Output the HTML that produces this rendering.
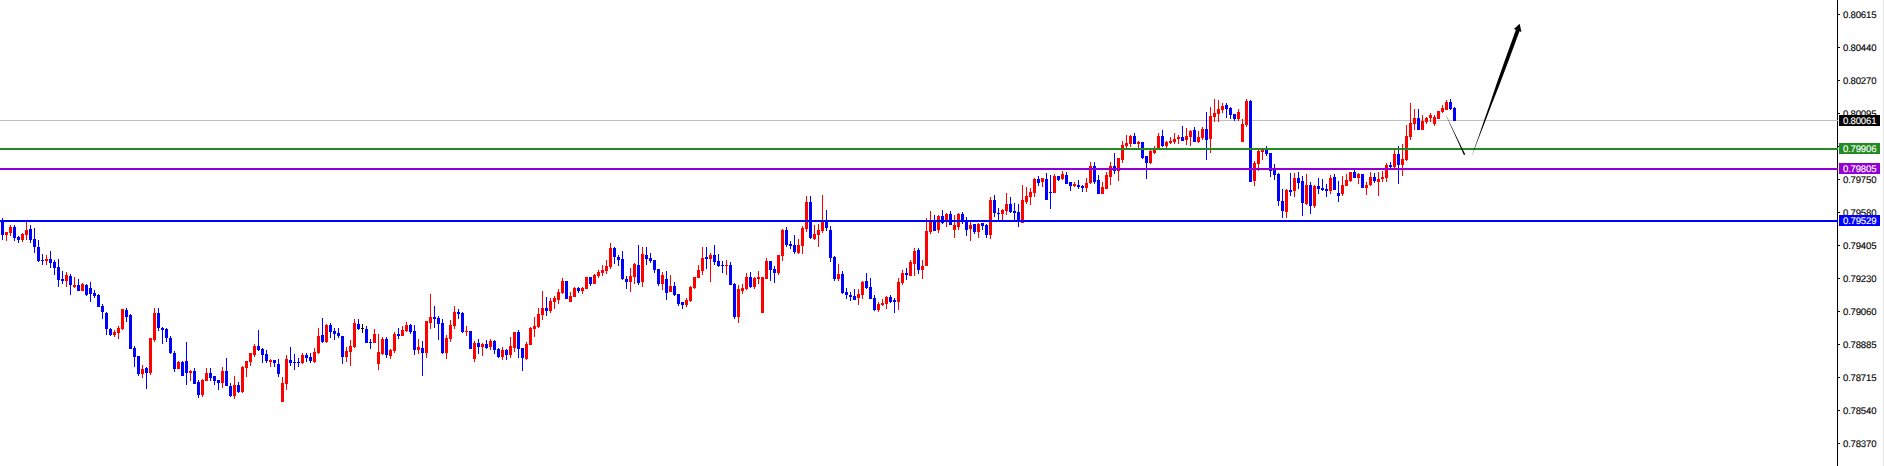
<!DOCTYPE html>
<html><head><meta charset="utf-8"><title>Chart</title>
<style>
html,body{margin:0;padding:0;background:#fff;}
body{width:1884px;height:466px;position:relative;overflow:hidden;font-family:"Liberation Sans",sans-serif;}
.chart{position:absolute;left:0;top:0;display:block;}
.lb{position:absolute;left:1843px;height:12px;line-height:12px;font-size:9.6px;letter-spacing:-0.2px;color:#000;white-space:nowrap;text-rendering:geometricPrecision;-webkit-text-stroke:0.12px currentColor;}
.lb.w{color:#fff;}
.tag{position:absolute;left:1839px;width:41px;height:11px;}
</style></head><body>
<svg class="chart" width="1884" height="466" viewBox="0 0 1884 466" shape-rendering="crispEdges">
<rect x="0" y="120" width="1838" height="1" fill="#c0c0c0"/>
<path fill="#ff0000" d="M6 232h1V241h-1zM5 232h3V235h-3zM10 225h1V236h-1zM9 227h3V233h-3zM22 233h1V242h-1zM21 234h3V240h-3zM26 222h1V240h-1zM25 230h3V235h-3zM46 255h1V265h-1zM45 259h3V261h-3zM66 272h1V287h-1zM65 275h3V281h-3zM74 277h1V288h-1zM73 285h3V287h-3zM82 283h1V291h-1zM81 284h3V291h-3zM114 330h1V337h-1zM113 332h3V335h-3zM118 326h1V339h-1zM117 328h3V333h-3zM122 309h1V330h-1zM121 309h3V329h-3zM142 365h1V378h-1zM141 369h3V374h-3zM150 338h1V375h-1zM149 338h3V373h-3zM154 308h1V342h-1zM153 313h3V340h-3zM178 361h1V369h-1zM177 362h3V369h-3zM190 370h1V381h-1zM189 371h3V373h-3zM202 379h1V397h-1zM201 380h3V395h-3zM206 368h1V381h-1zM205 373h3V381h-3zM222 367h1V388h-1zM221 371h3V383h-3zM234 376h1V399h-1zM233 385h3V396h-3zM242 366h1V393h-1zM241 367h3V392h-3zM246 361h1V377h-1zM245 361h3V368h-3zM250 353h1V366h-1zM249 353h3V362h-3zM254 344h1V357h-1zM253 346h3V355h-3zM270 359h1V367h-1zM269 360h3V362h-3zM282 377h1V402h-1zM281 383h3V402h-3zM286 355h1V390h-1zM285 359h3V384h-3zM302 353h1V364h-1zM301 355h3V363h-3zM314 348h1V363h-1zM313 352h3V362h-3zM318 328h1V354h-1zM317 336h3V353h-3zM326 324h1V343h-1zM325 325h3V342h-3zM346 347h1V362h-1zM345 351h3V357h-3zM350 340h1V366h-1zM349 346h3V352h-3zM354 319h1V348h-1zM353 323h3V347h-3zM374 329h1V343h-1zM373 334h3V343h-3zM378 334h1V370h-1zM377 352h3V364h-3zM382 337h1V355h-1zM381 339h3V354h-3zM390 349h1V359h-1zM389 350h3V356h-3zM394 332h1V353h-1zM393 334h3V351h-3zM402 326h1V336h-1zM401 330h3V336h-3zM406 322h1V332h-1zM405 325h3V331h-3zM418 339h1V354h-1zM417 347h3V350h-3zM426 321h1V358h-1zM425 321h3V353h-3zM430 294h1V329h-1zM429 317h3V323h-3zM446 335h1V359h-1zM445 338h3V353h-3zM450 320h1V342h-1zM449 325h3V339h-3zM454 306h1V329h-1zM453 312h3V326h-3zM466 326h1V336h-1zM465 331h3V332h-3zM474 341h1V362h-1zM473 343h3V359h-3zM482 343h1V356h-1zM481 344h3V347h-3zM490 339h1V350h-1zM489 341h3V347h-3zM502 347h1V360h-1zM501 350h3V357h-3zM510 337h1V358h-1zM509 346h3V355h-3zM514 332h1V352h-1zM513 332h3V348h-3zM526 342h1V360h-1zM525 344h3V359h-3zM530 327h1V345h-1zM529 328h3V345h-3zM534 317h1V337h-1zM533 326h3V329h-3zM538 308h1V328h-1zM537 314h3V327h-3zM542 291h1V320h-1zM541 308h3V315h-3zM550 298h1V313h-1zM549 301h3V311h-3zM554 296h1V309h-1zM553 298h3V302h-3zM558 289h1V304h-1zM557 292h3V300h-3zM562 278h1V294h-1zM561 281h3V293h-3zM570 292h1V302h-1zM569 296h3V302h-3zM574 287h1V297h-1zM573 288h3V297h-3zM582 287h1V294h-1zM581 288h3V291h-3zM586 277h1V289h-1zM585 277h3V289h-3zM594 274h1V284h-1zM593 275h3V284h-3zM598 270h1V278h-1zM597 272h3V276h-3zM602 265h1V276h-1zM601 270h3V273h-3zM606 260h1V274h-1zM605 266h3V271h-3zM610 243h1V269h-1zM609 248h3V267h-3zM630 268h1V292h-1zM629 276h3V282h-3zM634 263h1V284h-1zM633 264h3V277h-3zM642 247h1V287h-1zM641 254h3V282h-3zM662 272h1V290h-1zM661 275h3V284h-3zM670 275h1V292h-1zM669 286h3V292h-3zM686 298h1V307h-1zM685 300h3V305h-3zM690 286h1V302h-1zM689 287h3V301h-3zM694 277h1V289h-1zM693 277h3V288h-3zM698 265h1V278h-1zM697 270h3V278h-3zM702 247h1V275h-1zM701 258h3V271h-3zM710 253h1V282h-1zM709 255h3V259h-3zM726 260h1V275h-1zM725 265h3V266h-3zM738 285h1V323h-1zM737 289h3V317h-3zM742 284h1V294h-1zM741 288h3V291h-3zM746 273h1V290h-1zM745 277h3V289h-3zM754 277h1V289h-1zM753 278h3V287h-3zM758 271h1V284h-1zM757 277h3V279h-3zM762 277h1V313h-1zM761 277h3V313h-3zM766 258h1V279h-1zM765 261h3V279h-3zM778 255h1V275h-1zM777 255h3V273h-3zM782 229h1V261h-1zM781 230h3V256h-3zM798 239h1V254h-1zM797 245h3V253h-3zM802 226h1V254h-1zM801 228h3V246h-3zM806 196h1V232h-1zM805 202h3V229h-3zM814 225h1V240h-1zM813 234h3V239h-3zM818 224h1V247h-1zM817 230h3V235h-3zM822 195h1V233h-1zM821 221h3V231h-3zM838 264h1V281h-1zM837 274h3V279h-3zM858 289h1V305h-1zM857 294h3V298h-3zM862 281h1V299h-1zM861 282h3V295h-3zM878 302h1V312h-1zM877 304h3V310h-3zM882 299h1V306h-1zM881 303h3V305h-3zM886 296h1V309h-1zM885 297h3V304h-3zM898 278h1V310h-1zM897 282h3V302h-3zM902 270h1V285h-1zM901 273h3V283h-3zM910 260h1V276h-1zM909 262h3V276h-3zM914 248h1V276h-1zM913 251h3V264h-3zM922 260h1V279h-1zM921 266h3V270h-3zM926 218h1V266h-1zM925 231h3V266h-3zM930 211h1V234h-1zM929 222h3V232h-3zM938 215h1V233h-1zM937 216h3V230h-3zM946 213h1V227h-1zM945 214h3V220h-3zM954 215h1V238h-1zM953 225h3V230h-3zM958 213h1V230h-1zM957 214h3V227h-3zM970 222h1V241h-1zM969 225h3V229h-3zM978 223h1V238h-1zM977 224h3V232h-3zM990 197h1V239h-1zM989 200h3V235h-3zM1002 209h1V220h-1zM1001 210h3V214h-3zM1006 193h1V215h-1zM1005 204h3V211h-3zM1022 185h1V223h-1zM1021 200h3V223h-3zM1026 187h1V204h-1zM1025 196h3V202h-3zM1030 188h1V205h-1zM1029 192h3V197h-3zM1034 178h1V197h-1zM1033 179h3V193h-3zM1042 178h1V187h-1zM1041 178h3V182h-3zM1054 174h1V193h-1zM1053 176h3V193h-3zM1062 171h1V180h-1zM1061 174h3V179h-3zM1074 182h1V187h-1zM1073 184h3V186h-3zM1086 178h1V192h-1zM1085 183h3V188h-3zM1090 162h1V184h-1zM1089 166h3V183h-3zM1102 182h1V194h-1zM1101 187h3V194h-3zM1106 172h1V189h-1zM1105 175h3V189h-3zM1110 162h1V185h-1zM1109 166h3V177h-3zM1118 158h1V181h-1zM1117 158h3V171h-3zM1122 141h1V163h-1zM1121 145h3V160h-3zM1126 135h1V148h-1zM1125 143h3V146h-3zM1130 135h1V147h-1zM1129 136h3V144h-3zM1138 141h1V148h-1zM1137 142h3V144h-3zM1150 150h1V164h-1zM1149 151h3V163h-3zM1154 146h1V154h-1zM1153 148h3V153h-3zM1158 133h1V148h-1zM1157 136h3V148h-3zM1166 141h1V148h-1zM1165 142h3V146h-3zM1170 137h1V144h-1zM1169 141h3V143h-3zM1174 133h1V144h-1zM1173 139h3V142h-3zM1178 135h1V144h-1zM1177 137h3V139h-3zM1186 128h1V145h-1zM1185 136h3V140h-3zM1190 130h1V146h-1zM1189 131h3V137h-3zM1198 131h1V143h-1zM1197 137h3V142h-3zM1202 127h1V140h-1zM1201 129h3V138h-3zM1210 107h1V153h-1zM1209 116h3V139h-3zM1214 99h1V122h-1zM1213 113h3V117h-3zM1218 100h1V122h-1zM1217 109h3V114h-3zM1222 103h1V113h-1zM1221 106h3V110h-3zM1238 109h1V121h-1zM1237 112h3V119h-3zM1242 119h1V142h-1zM1241 124h3V142h-3zM1246 99h1V127h-1zM1245 101h3V125h-3zM1254 161h1V186h-1zM1253 163h3V181h-3zM1258 150h1V171h-1zM1257 151h3V164h-3zM1262 149h1V160h-1zM1261 149h3V152h-3zM1286 189h1V218h-1zM1285 190h3V212h-3zM1294 173h1V197h-1zM1293 178h3V191h-3zM1306 174h1V205h-1zM1305 185h3V204h-3zM1314 185h1V208h-1zM1313 186h3V206h-3zM1330 175h1V194h-1zM1329 178h3V191h-3zM1342 176h1V196h-1zM1341 185h3V194h-3zM1346 174h1V186h-1zM1345 180h3V186h-3zM1350 172h1V182h-1zM1349 172h3V181h-3zM1358 173h1V184h-1zM1357 174h3V178h-3zM1366 182h1V195h-1zM1365 185h3V188h-3zM1370 172h1V186h-1zM1369 177h3V185h-3zM1378 172h1V196h-1zM1377 179h3V182h-3zM1382 171h1V182h-1zM1381 177h3V179h-3zM1386 163h1V182h-1zM1385 165h3V178h-3zM1394 150h1V168h-1zM1393 154h3V167h-3zM1402 144h1V176h-1zM1401 159h3V165h-3zM1406 125h1V161h-1zM1405 136h3V160h-3zM1410 103h1V140h-1zM1409 123h3V137h-3zM1414 109h1V130h-1zM1413 118h3V124h-3zM1422 115h1V130h-1zM1421 121h3V130h-3zM1426 117h1V124h-1zM1425 118h3V122h-3zM1430 113h1V122h-1zM1429 115h3V118h-3zM1434 115h1V126h-1zM1433 117h3V124h-3zM1438 111h1V119h-1zM1437 111h3V119h-3zM1442 105h1V113h-1zM1441 108h3V112h-3zM1446 100h1V110h-1zM1445 102h3V110h-3z"/>
<path fill="#0000ff" d="M2 218h1V240h-1zM1 220h3V235h-3zM14 225h1V241h-1zM13 227h3V238h-3zM18 236h1V243h-1zM17 237h3V240h-3zM30 225h1V243h-1zM29 229h3V240h-3zM34 228h1V253h-1zM33 239h3V247h-3zM38 240h1V262h-1zM37 247h3V261h-3zM42 254h1V265h-1zM41 260h3V261h-3zM50 251h1V268h-1zM49 259h3V263h-3zM54 260h1V275h-1zM53 262h3V268h-3zM58 259h1V287h-1zM57 267h3V280h-3zM62 271h1V284h-1zM61 279h3V281h-3zM70 274h1V295h-1zM69 276h3V285h-3zM78 279h1V291h-1zM77 285h3V291h-3zM86 284h1V296h-1zM85 285h3V295h-3zM90 282h1V302h-1zM89 288h3V294h-3zM94 290h1V298h-1zM93 293h3V296h-3zM98 294h1V307h-1zM97 295h3V307h-3zM102 304h1V319h-1zM101 306h3V312h-3zM106 312h1V335h-1zM105 313h3V329h-3zM110 328h1V336h-1zM109 329h3V335h-3zM126 308h1V322h-1zM125 310h3V317h-3zM130 314h1V349h-1zM129 315h3V349h-3zM134 346h1V367h-1zM133 348h3V357h-3zM138 356h1V376h-1zM137 356h3V374h-3zM146 367h1V389h-1zM145 368h3V373h-3zM158 308h1V331h-1zM157 313h3V328h-3zM162 327h1V344h-1zM161 328h3V330h-3zM166 328h1V342h-1zM165 329h3V338h-3zM170 336h1V354h-1zM169 338h3V353h-3zM174 351h1V372h-1zM173 353h3V369h-3zM182 361h1V376h-1zM181 362h3V376h-3zM186 342h1V385h-1zM185 361h3V373h-3zM194 368h1V384h-1zM193 371h3V384h-3zM198 380h1V398h-1zM197 382h3V395h-3zM210 368h1V381h-1zM209 373h3V378h-3zM214 376h1V385h-1zM213 376h3V381h-3zM218 380h1V390h-1zM217 380h3V383h-3zM226 358h1V386h-1zM225 371h3V386h-3zM230 383h1V397h-1zM229 386h3V396h-3zM238 382h1V393h-1zM237 385h3V392h-3zM258 330h1V351h-1zM257 346h3V350h-3zM262 348h1V363h-1zM261 349h3V355h-3zM266 350h1V363h-1zM265 354h3V361h-3zM274 360h1V367h-1zM273 360h3V363h-3zM278 359h1V377h-1zM277 364h3V374h-3zM290 347h1V366h-1zM289 360h3V363h-3zM294 354h1V370h-1zM293 362h3V363h-3zM298 358h1V367h-1zM297 362h3V363h-3zM306 353h1V362h-1zM305 355h3V358h-3zM310 353h1V363h-1zM309 357h3V361h-3zM322 318h1V343h-1zM321 335h3V342h-3zM330 323h1V338h-1zM329 325h3V332h-3zM334 328h1V340h-1zM333 331h3V334h-3zM338 328h1V338h-1zM337 333h3V336h-3zM342 336h1V364h-1zM341 336h3V357h-3zM358 319h1V330h-1zM357 324h3V329h-3zM366 326h1V343h-1zM365 329h3V343h-3zM370 339h1V349h-1zM369 342h3V343h-3zM386 337h1V358h-1zM385 339h3V355h-3zM398 328h1V339h-1zM397 334h3V336h-3zM410 324h1V334h-1zM409 325h3V332h-3zM414 325h1V355h-1zM413 331h3V350h-3zM422 341h1V376h-1zM421 348h3V353h-3zM434 306h1V328h-1zM433 317h3V319h-3zM438 316h1V340h-1zM437 318h3V324h-3zM442 319h1V354h-1zM441 323h3V353h-3zM458 309h1V319h-1zM457 312h3V314h-3zM462 312h1V333h-1zM461 313h3V332h-3zM470 331h1V349h-1zM469 331h3V349h-3zM478 339h1V354h-1zM477 343h3V347h-3zM486 340h1V349h-1zM485 344h3V348h-3zM494 340h1V354h-1zM493 341h3V350h-3zM498 348h1V358h-1zM497 349h3V357h-3zM506 349h1V360h-1zM505 350h3V355h-3zM518 330h1V358h-1zM517 332h3V349h-3zM522 348h1V371h-1zM521 348h3V358h-3zM546 297h1V316h-1zM545 308h3V311h-3zM566 281h1V299h-1zM565 281h3V299h-3zM578 287h1V293h-1zM577 288h3V291h-3zM590 277h1V286h-1zM589 277h3V284h-3zM614 247h1V264h-1zM613 248h3V257h-3zM618 255h1V266h-1zM617 257h3V260h-3zM622 251h1V280h-1zM621 259h3V279h-3zM626 276h1V289h-1zM625 279h3V282h-3zM638 245h1V285h-1zM637 265h3V283h-3zM646 247h1V265h-1zM645 255h3V259h-3zM650 253h1V263h-1zM649 258h3V261h-3zM654 260h1V273h-1zM653 260h3V270h-3zM658 269h1V286h-1zM657 269h3V284h-3zM666 271h1V300h-1zM665 279h3V293h-3zM674 282h1V296h-1zM673 286h3V295h-3zM678 294h1V306h-1zM677 294h3V304h-3zM682 302h1V309h-1zM681 302h3V305h-3zM706 247h1V269h-1zM705 257h3V259h-3zM714 245h1V265h-1zM713 255h3V262h-3zM718 254h1V267h-1zM717 261h3V266h-3zM722 261h1V273h-1zM721 265h3V266h-3zM730 262h1V285h-1zM729 265h3V285h-3zM734 283h1V319h-1zM733 284h3V317h-3zM750 272h1V288h-1zM749 277h3V287h-3zM770 261h1V281h-1zM769 261h3V270h-3zM774 266h1V283h-1zM773 269h3V273h-3zM786 227h1V247h-1zM785 230h3V245h-3zM790 241h1V249h-1zM789 244h3V246h-3zM794 235h1V254h-1zM793 245h3V252h-3zM810 196h1V239h-1zM809 202h3V238h-3zM826 210h1V231h-1zM825 221h3V228h-3zM830 226h1V262h-1zM829 230h3V258h-3zM834 256h1V281h-1zM833 257h3V279h-3zM842 271h1V294h-1zM841 274h3V293h-3zM846 288h1V299h-1zM845 292h3V295h-3zM850 292h1V301h-1zM849 295h3V297h-3zM854 289h1V300h-1zM853 296h3V300h-3zM866 273h1V289h-1zM865 281h3V288h-3zM870 278h1V299h-1zM869 287h3V299h-3zM874 295h1V311h-1zM873 298h3V310h-3zM890 295h1V303h-1zM889 297h3V302h-3zM894 298h1V313h-1zM893 300h3V302h-3zM906 268h1V280h-1zM905 273h3V275h-3zM918 248h1V274h-1zM917 250h3V270h-3zM934 215h1V231h-1zM933 220h3V231h-3zM942 210h1V224h-1zM941 216h3V223h-3zM950 211h1V225h-1zM949 214h3V225h-3zM962 212h1V224h-1zM961 214h3V221h-3zM966 217h1V236h-1zM965 221h3V230h-3zM974 224h1V234h-1zM973 224h3V232h-3zM982 223h1V230h-1zM981 223h3V226h-3zM986 224h1V238h-1zM985 225h3V235h-3zM994 195h1V217h-1zM993 200h3V213h-3zM998 208h1V220h-1zM997 213h3V214h-3zM1010 197h1V213h-1zM1009 204h3V212h-3zM1014 203h1V220h-1zM1013 211h3V213h-3zM1018 204h1V227h-1zM1017 212h3V222h-3zM1038 176h1V186h-1zM1037 179h3V183h-3zM1046 173h1V200h-1zM1045 179h3V200h-3zM1050 175h1V209h-1zM1049 192h3V193h-3zM1058 176h1V181h-1zM1057 176h3V180h-3zM1066 172h1V184h-1zM1065 175h3V184h-3zM1070 182h1V191h-1zM1069 182h3V186h-3zM1078 180h1V189h-1zM1077 185h3V187h-3zM1082 185h1V192h-1zM1081 186h3V188h-3zM1094 162h1V184h-1zM1093 166h3V182h-3zM1098 175h1V194h-1zM1097 180h3V194h-3zM1114 153h1V174h-1zM1113 166h3V171h-3zM1134 133h1V144h-1zM1133 136h3V144h-3zM1142 142h1V159h-1zM1141 142h3V158h-3zM1146 156h1V179h-1zM1145 156h3V163h-3zM1162 130h1V147h-1zM1161 136h3V146h-3zM1182 126h1V141h-1zM1181 137h3V141h-3zM1194 127h1V142h-1zM1193 130h3V142h-3zM1206 112h1V160h-1zM1205 129h3V140h-3zM1226 103h1V118h-1zM1225 105h3V109h-3zM1230 107h1V119h-1zM1229 108h3V115h-3zM1234 114h1V121h-1zM1233 114h3V119h-3zM1250 100h1V182h-1zM1249 101h3V182h-3zM1266 146h1V156h-1zM1265 150h3V154h-3zM1270 153h1V177h-1zM1269 153h3V171h-3zM1274 164h1V180h-1zM1273 170h3V175h-3zM1278 173h1V206h-1zM1277 174h3V201h-3zM1282 189h1V218h-1zM1281 201h3V211h-3zM1290 173h1V196h-1zM1289 190h3V192h-3zM1298 172h1V189h-1zM1297 178h3V183h-3zM1302 176h1V216h-1zM1301 181h3V203h-3zM1310 182h1V214h-1zM1309 185h3V206h-3zM1318 178h1V194h-1zM1317 186h3V189h-3zM1322 179h1V191h-1zM1321 188h3V190h-3zM1326 184h1V197h-1zM1325 189h3V191h-3zM1334 174h1V190h-1zM1333 177h3V190h-3zM1338 181h1V202h-1zM1337 193h3V196h-3zM1354 170h1V178h-1zM1353 172h3V178h-3zM1362 174h1V188h-1zM1361 174h3V188h-3zM1374 173h1V183h-1zM1373 177h3V181h-3zM1390 162h1V169h-1zM1389 165h3V167h-3zM1398 146h1V184h-1zM1397 154h3V165h-3zM1418 109h1V130h-1zM1417 118h3V130h-3zM1450 99h1V110h-1zM1449 102h3V109h-3zM1454 107h1V121h-1zM1453 108h3V121h-3z"/>
<path fill="#000000" d="M362 324h1V333h-1zM361 328h3V329h-3z"/>
<rect x="1837" y="0" width="1" height="466" fill="#000"/>
<rect x="1837" y="120" width="1" height="1" fill="#c0c0c0"/>
<rect x="0" y="148" width="1838" height="2" fill="#228b22"/>
<rect x="0" y="168" width="1838" height="2" fill="#9400d3"/>
<rect x="0" y="220" width="1838" height="2" fill="#0000ff"/>
<rect x="1838" y="14" width="2" height="1" fill="#000"/>
<rect x="1838" y="47" width="2" height="1" fill="#000"/>
<rect x="1838" y="80" width="2" height="1" fill="#000"/>
<rect x="1838" y="113" width="2" height="1" fill="#000"/>
<rect x="1838" y="146" width="2" height="1" fill="#000"/>
<rect x="1838" y="179" width="2" height="1" fill="#000"/>
<rect x="1838" y="212" width="2" height="1" fill="#000"/>
<rect x="1838" y="245" width="2" height="1" fill="#000"/>
<rect x="1838" y="278" width="2" height="1" fill="#000"/>
<rect x="1838" y="311" width="2" height="1" fill="#000"/>
<rect x="1838" y="344" width="2" height="1" fill="#000"/>
<rect x="1838" y="377" width="2" height="1" fill="#000"/>
<rect x="1838" y="410" width="2" height="1" fill="#000"/>
<rect x="1838" y="443" width="2" height="1" fill="#000"/>
<rect x="1883" y="0" width="1" height="466" fill="#e6e6e6"/>
<g shape-rendering="geometricPrecision" fill="#000"><polygon points="1446.18,115.80 1454.44,134.00 1460.79,148.00 1463.76,154.80 1465.46,154.80 1462.03,148.00 1455.24,134.00 1446.42,115.80"/><polygon points="1471.99,155.50 1474.54,148.00 1479.45,134.00 1484.21,120.00 1489.47,105.00 1495.81,86.00 1504.96,60.00 1510.39,45.00 1515.78,30.00 1519.97,30.00 1514.39,45.00 1508.86,60.00 1499.01,86.00 1491.47,105.00 1485.77,120.00 1480.29,134.00 1474.98,148.00 1472.05,155.50"/><polygon points="1519.7,23.8 1513.9,28.9 1521.4,32.0"/></g>
</svg>
<div class="lb" style="top:10px">0.80615</div>
<div class="lb" style="top:43px">0.80440</div>
<div class="lb" style="top:76px">0.80270</div>
<div class="lb" style="top:109px">0.80095</div>
<div class="lb" style="top:175px">0.79750</div>
<div class="lb" style="top:208px">0.79580</div>
<div class="lb" style="top:241px">0.79405</div>
<div class="lb" style="top:274px">0.79230</div>
<div class="lb" style="top:307px">0.79060</div>
<div class="lb" style="top:340px">0.78885</div>
<div class="lb" style="top:373px">0.78715</div>
<div class="lb" style="top:406px">0.78540</div>
<div class="lb" style="top:439px">0.78370</div>
<div class="tag" style="top:115px;background:#000000"></div><div class="lb w" style="top:116px">0.80061</div>
<div class="tag" style="top:143px;background:#228b22"></div><div class="lb w" style="top:144px">0.79906</div>
<div class="tag" style="top:163px;background:#9400d3"></div><div class="lb w" style="top:164px">0.79805</div>
<div class="tag" style="top:215px;background:#0000ff"></div><div class="lb w" style="top:216px">0.79529</div>
</body></html>
